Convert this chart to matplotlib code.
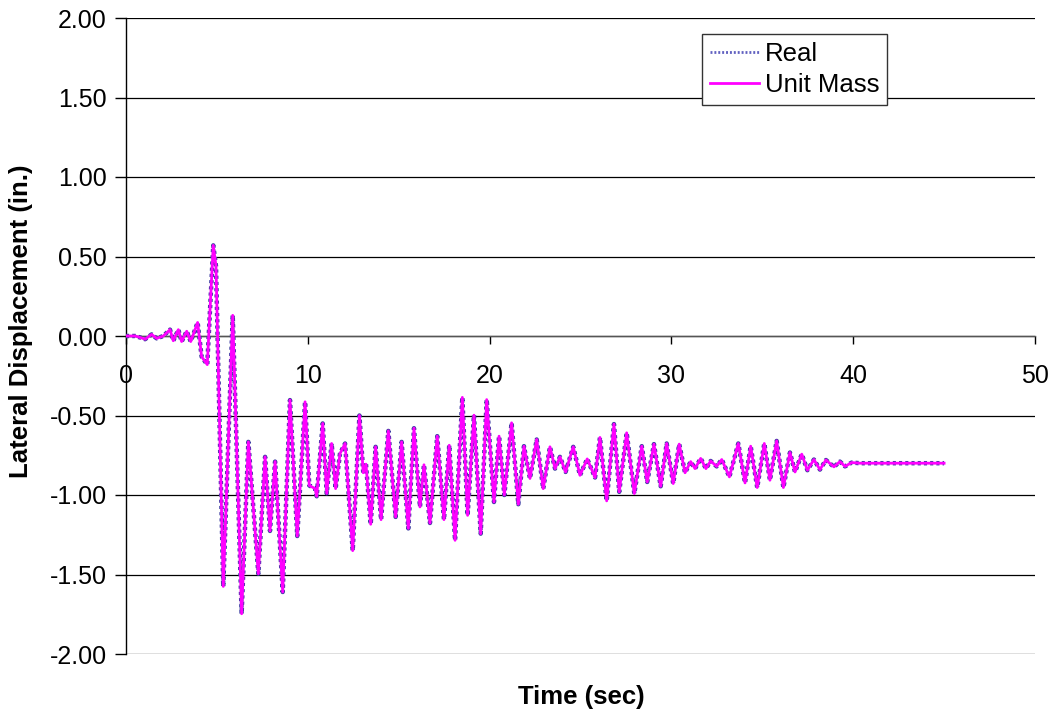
import matplotlib.pyplot as plt
import numpy as np

# time (sec) and lateral displacement (in.), peaks/troughs
time = [0.0, 0.5, 0.8, 1.05, 1.41, 1.69, 2.05, 2.42, 2.6, 2.88, 3.06, 3.34, 3.56,
        3.94, 4.16, 4.47, 4.8, 4.95, 5.35, 5.87, 6.36, 6.73, 7.0, 7.28, 7.65,
        7.92, 8.2, 8.62, 9.02, 9.42, 9.85, 10.08, 10.4, 10.49, 10.82, 11.04,
        11.31, 11.53, 11.77, 12.05, 12.47, 12.84, 13.05, 13.2, 13.46, 13.73,
        14.03, 14.43, 14.83, 15.16, 15.53, 15.84, 16.17, 16.39, 16.72, 17.12,
        17.49, 17.78, 18.1, 18.5, 18.79, 19.14, 19.51, 19.84, 20.24, 20.52,
        20.81, 21.21, 21.58, 21.89, 22.22, 22.59, 22.95, 23.32, 23.6, 23.87,
        24.18, 24.6, 24.97, 25.37, 25.8, 26.07, 26.44, 26.84, 27.13, 27.54,
        27.96, 28.37, 28.67, 29.04, 29.41, 29.74, 30.1, 30.43, 30.75, 31.06,
        31.3, 31.61, 31.9, 32.16, 32.49, 32.77, 33.19, 33.68, 34.05, 34.36,
        34.72, 35.11, 35.42, 35.79, 36.16, 36.52, 36.8, 37.17, 37.48, 37.84,
        38.17, 38.5, 38.94, 39.27, 39.55, 39.92, 40.37, 45.0]

real = [0.0, 0.0, -0.01, -0.02, 0.01, -0.015, 0.0, 0.04, -0.03, 0.04, -0.035, 0.03,
        -0.035, 0.085, -0.13, -0.18, 0.57, 0.44, -1.575, 0.13, -1.747, -0.666,
        -1.075, -1.495, -0.76, -1.226, -0.79, -1.61, -0.403, -1.258, -0.414,
        -0.94, -0.96, -1.008, -0.55, -0.99, -0.676, -0.96, -0.74, -0.676, -1.35,
        -0.5, -0.86, -0.806, -1.184, -0.697, -1.155, -0.597, -1.138, -0.666,
        -1.21, -0.58, -1.075, -0.81, -1.176, -0.63, -1.155, -0.687, -1.285,
        -0.386, -1.128, -0.498, -1.243, -0.4, -1.044, -0.63, -1.0, -0.546,
        -1.058, -0.693, -0.896, -0.651, -0.96, -0.697, -0.834, -0.76, -0.855,
        -0.697, -0.876, -0.773, -0.89, -0.638, -1.037, -0.554, -0.98, -0.609,
        -0.991, -0.693, -0.918, -0.68, -0.945, -0.676, -0.928, -0.68, -0.86,
        -0.79, -0.834, -0.77, -0.834, -0.786, -0.82, -0.777, -0.886, -0.676,
        -0.924, -0.693, -0.953, -0.676, -0.907, -0.66, -0.953, -0.733, -0.855,
        -0.743, -0.844, -0.777, -0.84, -0.78, -0.823, -0.79, -0.82, -0.796,
        -0.80, -0.80]

# unit mass response overlays the real one
unit_mass = list(real)

yticks = [-2.0, -1.5, -1.0, -0.5, 0.0, 0.5, 1.0, 1.5, 2.0]
xticks = [0, 10, 20, 30, 40, 50]

plt.rcParams['font.family'] = ['Liberation Sans', 'DejaVu Sans']

fig = plt.figure(figsize=(10.51, 7.15), dpi=100)
ax = fig.add_axes([126/1051, 1 - 654/715, 909/1051, 636/715])

ax.plot(time, real, color='#3a3aa0', linestyle=(0, (0.7, 0.7)), linewidth=3.2,
        label='Real', zorder=3)
ax.plot(time, unit_mass, color='#ff00ff', linewidth=2.0, label='Unit Mass', zorder=4)

ax.set_xlim(0, 50)
ax.set_ylim(-2, 2)
ax.set_xticks(xticks)
ax.set_yticks(yticks)
ax.set_yticklabels([f"{v:.2f}" for v in yticks])

for s in ['top', 'right']:
    ax.spines[s].set_visible(False)
ax.spines['left'].set_linewidth(1.0)
ax.spines['bottom'].set_position(('data', 0))
ax.spines['bottom'].set_linewidth(1.0)
ax.spines['bottom'].set_color('#555555')

ax.yaxis.grid(True, color='black', linewidth=0.9)
ax.set_axisbelow(True)

ax.tick_params(axis='y', direction='out', length=8, width=1, pad=6, labelsize=18)
ax.tick_params(axis='x', direction='out', length=6, width=1, pad=14, labelsize=18)

fig.text(21/1051, 1 - 321/715, 'Lateral Displacement (in.)', rotation=90,
         ha='center', va='center', fontsize=18.5, fontweight='bold')
fig.text(581/1051, 1 - 697/715, 'Time (sec)', ha='center', va='center',
         fontsize=18.5, fontweight='bold')

leg = ax.legend(loc='upper left', bbox_to_anchor=(702/1051, 1 - 34/715),
                bbox_transform=fig.transFigure, borderaxespad=0, fancybox=False,
                edgecolor='#333333', framealpha=1, fontsize=18.5, handlelength=1.9,
                handletextpad=0.25, labelspacing=0.3, borderpad=0.3)
leg.get_frame().set_linewidth(1.0)
leg.get_lines()[0].set_linewidth(2.0)
leg.get_lines()[0].set_color('#6060c0')

plt.savefig('out.png', dpi=100)
